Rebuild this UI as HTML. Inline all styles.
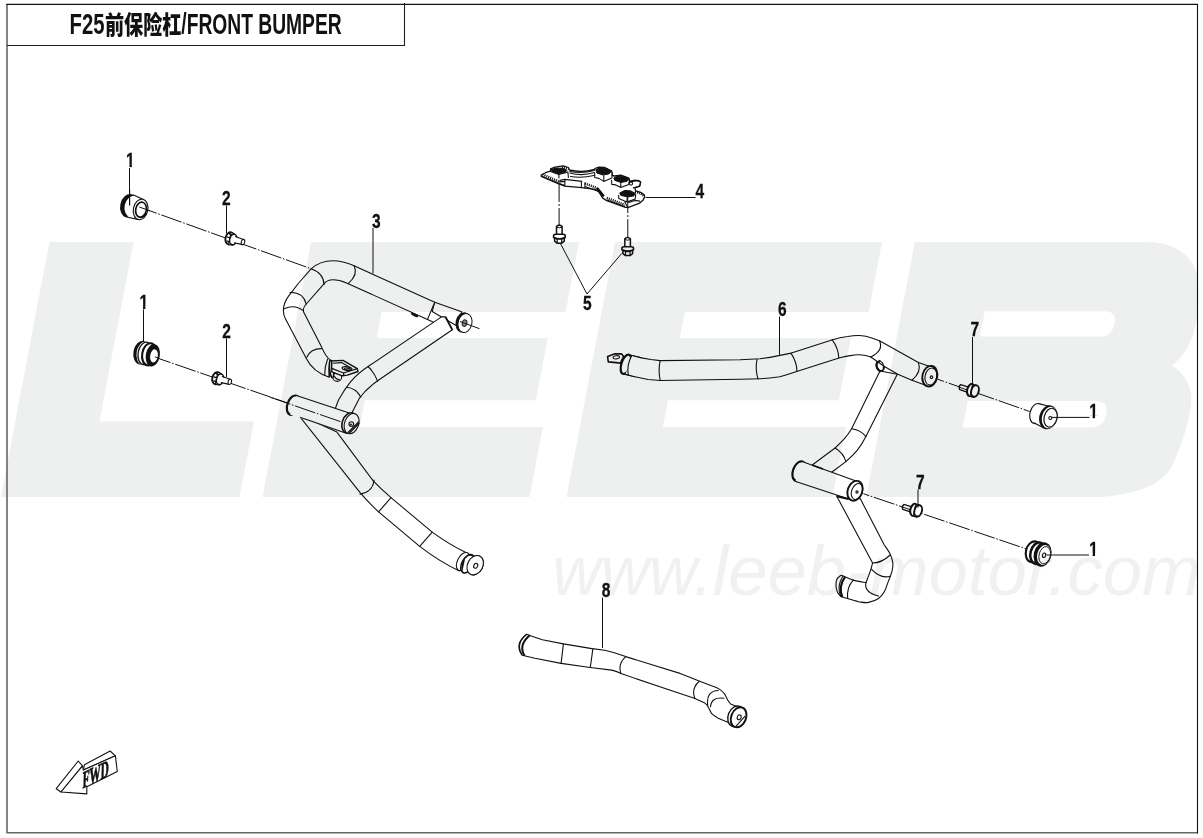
<!DOCTYPE html>
<html lang="zh">
<head>
<meta charset="utf-8">
<title>F25前保险杠/FRONT BUMPER</title>
<style>
html,body{margin:0;padding:0;background:#fff;}
body{width:1203px;height:838px;overflow:hidden;position:relative;font-family:"Liberation Sans","Noto Sans CJK SC",sans-serif;}
svg{position:absolute;left:0;top:0;display:block;}
.wm{fill:#eef0ef;}
.wmt{font-family:"Liberation Sans",sans-serif;font-style:italic;font-size:70px;fill:#f0f1f0;}
.ttl{font-family:"Liberation Sans","Noto Sans CJK SC",sans-serif;font-weight:bold;font-size:29px;fill:#111;}
.lb{font-family:"Liberation Sans",sans-serif;font-weight:bold;font-size:21px;fill:#111;text-anchor:middle;stroke:#111;stroke-width:.3;}
.ln{stroke:#111;stroke-width:1.1;fill:none;stroke-linecap:round;stroke-linejoin:round;}
.ld{stroke:#111;stroke-width:1;fill:none;}
.ax{stroke:#111;stroke-width:1;fill:none;stroke-dasharray:21.5 1.7 1.6 1.7;}
.tb{stroke:#111;fill:none;stroke-linecap:butt;stroke-linejoin:round;}
.tw{stroke:#fff;fill:none;stroke-linecap:butt;stroke-linejoin:round;}
.wf{fill:#fff;stroke:#111;stroke-width:1.1;stroke-linejoin:round;}
</style>
</head>
<body>
<svg width="1203" height="838" viewBox="0 0 1203 838">
<!-- WATERMARK -->
<g id="watermark">
<g class="wm" transform="translate(0,242) skewX(-10.76) translate(0,-242)">
<!-- L -->
<path d="M49.4 242H133.6V421.5H288V497H49.4Z"/>
<!-- E1 -->
<path d="M311 242H579V312H395V338H566V400.3H395V427H578V497H311Z"/>
<!-- E2 -->
<path d="M615 242H882V312H698V338H869V400.3H698V427H881V497H615Z"/>
<!-- B -->
<path fill-rule="evenodd" d="M914.8 242H1147C1165 242 1181 248 1192.1 258.6C1200 266 1204 275 1206.5 285C1210 298 1212 315 1211.4 325.4C1211 338 1208 348 1204.5 354.1C1201 360 1198 363 1195.2 365.5C1207 371 1217 384 1220.4 395.5C1223 405 1222.5 420 1221.4 429.6C1220 445 1217 458 1214.5 466.8C1209 482 1190 494 1150 497H914.8Z
M998 311.2H1118Q1130 311.2 1130 323.5Q1130 336.6 1118 336.6H998Z
M998 401H1126Q1139 401 1139 414Q1139 427.5 1126 427.5H998Z"/>
</g>
<text class="wmt" y="594.5"><tspan x="552.3" textLength="160" lengthAdjust="spacingAndGlyphs">www.</tspan><tspan x="712.5" textLength="488.5" lengthAdjust="spacingAndGlyphs">leeb-motor.com</tspan></text>
</g>
<!-- DRAWING -->
<g id="drawing" style="mix-blend-mode:multiply">
<!-- axis center lines -->
<g id="axes">
<path class="ax" d="M139.3 207L311 268.7" style="stroke-dashoffset:3.1"/>
<path class="ax" d="M159.8 358.9L287.1 402.8" style="stroke-dashoffset:10.2"/>
<path class="ax" d="M559.1 183.5V224.9" style="stroke-dasharray:24 2 2 2;stroke-dashoffset:5.5"/>
<path class="ax" d="M627.8 206.6V237.1" style="stroke-dasharray:24 2 2 2;stroke-dashoffset:17.5"/>
<path class="ax" d="M937.5 379.2L1029.7 411.5" style="stroke-dashoffset:14.7"/>
<path class="ax" d="M863.4 493.7L1026 548.8" style="stroke-dashoffset:15.4"/>
</g>
<!-- part 1 (plain bushing, top-left) -->
<g id="b1a">
<ellipse cx="129" cy="205.8" rx="8.8" ry="11.9" transform="rotate(12 129 205.8)" fill="#111"/>
<ellipse cx="132.2" cy="206.6" rx="7.6" ry="10.6" transform="rotate(12 132.2 206.6)" fill="#fff"/>
<path d="M133.6 195.2L143.3 199.5L137.9 219.4L127.7 216.7Z" fill="#fff"/>
<path class="ln" d="M133.6 194.9L143.3 199.5M127.7 217.2L137.9 219.4"/>
<ellipse class="wf" cx="140.6" cy="209.4" rx="7.2" ry="10.3" transform="rotate(12 140.6 209.4)"/>
<ellipse cx="141" cy="209.7" rx="5.3" ry="7.6" transform="rotate(12 141 209.7)" fill="none" stroke="#111" stroke-width="1.7"/>
<path class="ln" d="M146 213Q144.5 217 141 217.8" />
<path class="ld" d="M129.7 190V205.4"/>
<path class="ld" d="M139.3 207L150 210.8"/>
</g>
<!-- part 1 (ribbed bushing, left) -->
<g id="b1b">
<ellipse cx="141.6" cy="352.7" rx="8.2" ry="12" transform="rotate(10 141.6 352.7)" fill="#111"/>
<ellipse cx="143.9" cy="353.1" rx="7.3" ry="11.4" transform="rotate(10 143.9 353.1)" fill="#fff"/>
<ellipse cx="145.3" cy="353.4" rx="7.2" ry="11.3" transform="rotate(10 145.3 353.4)" fill="#fff" stroke="#111" stroke-width="1.3"/>
<ellipse cx="149.2" cy="354.3" rx="7" ry="11.2" transform="rotate(10 149.2 354.3)" fill="#fff" stroke="#111" stroke-width="2.1"/>
<ellipse cx="152.8" cy="355.3" rx="7" ry="11.3" transform="rotate(10 152.8 355.3)" fill="#111"/>
<ellipse cx="154" cy="355.9" rx="3.8" ry="6.6" transform="rotate(10 154 355.9)" fill="#fff"/>
<path class="ld" d="M155 356.8L160 358.9"/>
</g>
<!-- part 2 bolts -->
<g id="bolt2a">
<ellipse cx="229.8" cy="238.4" rx="4.3" ry="6.2" transform="rotate(14 229.8 238.4)" fill="#fff" stroke="#111" stroke-width="1.9"/>
<path d="M231 232.6L235 234.2L233 245.2L228.5 244.6Z" fill="#fff" stroke="#111" stroke-width="1"/>
<path class="ln" d="M229.2 233.6L232.2 235.6M227.2 237L230.6 238.2M227 241L230.2 242.4M231 235L233.6 237" style="stroke-width:1.3"/>
<ellipse cx="233.2" cy="239.5" rx="3.5" ry="5.4" transform="rotate(14 233.2 239.5)" fill="#fff" stroke="#111" stroke-width="1.6"/>
<path d="M234 236.6L242.6 239.6L242 244.2L233.2 242.2Z" fill="#fff"/>
<path class="ln" d="M235.6 236.6L243.3 239.4M242.4 244.6L234.4 242.8"/>
<ellipse class="wf" cx="243" cy="242" rx="1.7" ry="2.7" transform="rotate(14 243 242)"/>
</g>
<use href="#bolt2a" transform="translate(-13.2 139.8)"/>
<!-- part 3 : left bumper frame -->
<g id="p3">
<!-- narrow end section of upper tube -->
<path class="wf" d="M434.7 302.2L461.6 311.8L457 326L432.2 311.5Z"/>
<path class="ln" d="M427.5 319.4L433 322"/>
<!-- upper tube (a) -->
<path class="wf" d="M434.7 302.2L373.2 274.5L354.1 265.8C347 262.8 340 260.8 333.1 260.8C325 260.9 317 263.4 311.1 268.9L298.7 283L289.1 295.4C285.5 300 283.4 305 283.4 310.7C283.4 314 284 316 285.3 318.4L306.3 358.5C309 364 316 373 329.4 377.2L330.4 360.1C326 357 323.5 351.5 321.6 347.1L304.4 313.6C302.5 310.5 303 308 305.4 305L323.5 284.4C326 281 329 279.8 333.1 279.8C338 279.8 342 281 346.5 283L427.5 319.4Z"/>
<path class="ln" d="M354.1 265.8Q358.5 274.5 348.4 283.4M311.1 268.7Q323.5 273 324.1 284.4M290.1 292.6Q303 292 306.3 304.1M284.3 308.8Q294 304 303.5 310.7M306.8 357.2Q310.7 348.5 321.5 348.6M327.6 359Q324.5 367 324.7 375.1"/>
<path d="M330.4 360.1Q328.5 369 329.4 377.2" stroke="#111" stroke-width="1.8" fill="none"/>
<ellipse cx="414.5" cy="315" rx="4" ry="1.3" transform="rotate(24 414.5 315)" fill="#111"/>
<!-- tab -->
<circle class="wf" cx="337.2" cy="377" r="4.4"/>
<path class="ln" d="M334.5 376.5Q336 379.5 339.5 379.8"/>
<ellipse cx="331.6" cy="368.9" rx="2" ry="8.8" transform="rotate(-6 331.6 368.9)" fill="#fff" stroke="#111" stroke-width="1.5"/>
<path class="wf" d="M331.6 361L343 360.4L357.3 368.7L358 371.5L347.3 375.1L342.3 375.8L331.8 371.8Z" style="stroke-width:1.4"/>
<path class="ln" d="M332.4 368.6L343.6 373L357.3 368.7M343.6 373V375.6" style="stroke-width:1.3"/>
<path class="ln" d="M333 363.2L341.5 362.6L352 368.4"/>
<ellipse cx="346.8" cy="368.6" rx="4.7" ry="1.8" transform="rotate(8 346.8 368.6)" fill="#fff" stroke="#111" stroke-width="1.3"/>
<ellipse class="ln" cx="347.2" cy="369" rx="2.8" ry=".9" transform="rotate(8 347.2 369)"/>
<!-- end cap of (a) -->
<ellipse cx="463.2" cy="322.4" rx="7.6" ry="10.3" transform="rotate(14 463.2 322.4)" fill="#111"/>
<ellipse cx="465" cy="323" rx="6.9" ry="9.6" transform="rotate(14 465 323)" fill="#fff" stroke="#111" stroke-width="1"/>
<ellipse cx="464.6" cy="323.1" rx="2.3" ry="3.3" transform="rotate(14 464.6 323.1)" fill="#888" stroke="#222" stroke-width="1"/>
<path class="ax" d="M460 321.5L479.5 328.7"/>
<!-- brace (b) -->
<path class="wf" d="M441.5 316.9L445.5 316.9L452.3 329.8L378 380.5Q366 389 359.5 398L350.3 416L334 412L338.5 400Q344 390 350.1 382.3Q358 373 368.1 366.5Z"/>
<path d="M445.5 316.9L452.3 329.8" stroke="#111" stroke-width="1.8" fill="none"/>
<path class="ln" d="M368.1 366.5Q374 372.2 377.7 381.2M346.6 387.3Q356 388 360.9 397.3"/>
<!-- long lower tube (d) -->
<path class="wf" d="M297.8 414.1L359.9 492.4Q368 502 378.6 511.9L419.7 546.4Q440 562 459.3 570.9L465.5 552.2Q450 545 432.2 532.1L391 497.6Q381 489 373.2 480.9L336.9 432.1Z"/>
<path class="ln" d="M374 480.1Q373 492 360 494.1M391 497.6L378.6 511.9M432.2 532.1L419.7 546.4"/>
<!-- end of (d) -->
<ellipse class="wf" cx="463" cy="561.5" rx="5.5" ry="9.8" transform="rotate(28 463 561.5)"/>
<ellipse cx="468.5" cy="563.5" rx="6" ry="10" transform="rotate(28 468.5 563.5)" fill="#111"/>
<ellipse class="wf" cx="475.2" cy="565.2" rx="7.6" ry="10.2" transform="rotate(28 475.2 565.2)"/>
<path d="M466 554.5L473 556.5L470 575.5L462 573Z" fill="#fff"/>
<ellipse cx="467.5" cy="563.8" rx="5.6" ry="9.9" transform="rotate(28 467.5 563.8)" fill="none" stroke="#111" stroke-width="1.6"/>
<ellipse class="wf" cx="475.2" cy="565.2" rx="7.6" ry="10.2" transform="rotate(28 475.2 565.2)"/>
<ellipse class="ln" cx="475.7" cy="565.8" rx="1.9" ry="2.5" transform="rotate(28 475.7 565.8)"/>
<!-- cross tube (c) -->
<ellipse class="wf" cx="293.3" cy="405.2" rx="6" ry="10" transform="rotate(18.7 293.3 405.2)" style="stroke-width:2.2"/>
<path d="M296.4 395.5L349.3 413L345.5 433.1L290.2 414.8Z" fill="#fff"/>
<path class="ln" d="M296.4 395.5L349.3 413M345.5 433.1L300.6 417.4"/>
<path class="ax" d="M270 397.2L343 422.5"/>
<ellipse cx="349.3" cy="422.9" rx="7" ry="10.5" transform="rotate(18.7 349.3 422.9)" fill="#fff" stroke="#111" stroke-width="1.6"/>
<ellipse class="wf" cx="351.6" cy="423.6" rx="7" ry="10.5" transform="rotate(18.7 351.6 423.6)"/>
<circle class="ln" cx="351.3" cy="424" r="2.3"/>
<circle cx="351" cy="424.5" r="1.1" fill="#333"/>
<path class="ln" d="M348 432.5L358.5 422M349.5 433L359 423.5"/>
</g>
<!-- part 4 bracket + part 5 bolts -->
<g id="p4">
<path class="wf" style="stroke-width:1.3" d="M541.2 175L545.5 172.7L550.5 171.2L550.5 168.8L555 167.2L561.4 166.2L563.9 166L568.4 167.5L569.4 170Q581.9 173 594.4 169.5L594.9 168.5L598.8 167.2L604.8 167.5L611.8 171L612.3 175.5L614.8 176L620.8 175.2L628.8 178L629.8 181.1L635.7 180.1L640.7 181.9L639.7 185.9L634.8 187.9L635.7 190.9L640.7 192.4L644.2 194.9L644.7 196.9L643.2 199.9L639.7 203.1L627.8 207.6L624.8 207.1L606.8 200.7L602.8 198.1L598.8 191.9L594.9 189.4L581.9 187.7L564.9 186.1L559.4 184.1L541.2 176.5Z"/>
<g stroke="#111" stroke-width="2.4" fill="none" stroke-dasharray="1.1 1">
<path d="M542.5 174.3L559.4 181.7"/><path d="M561.9 166.8L568.9 168.8"/><path d="M584.9 183.4L596.8 187.9"/><path d="M606.8 197.9L624.8 204.9"/><path d="M634.8 191.9Q641.7 192.9 643.7 196.4"/>
</g>
<path d="M596.8 187.9L603.8 196.4" stroke="#111" stroke-width="2.6" fill="none"/>
<path class="ln" d="M542 176.3L559.4 183.6L564.9 185.5M550.5 171.5L558.9 174.5L558.9 178M558.9 174.5L567.9 172L568.4 177.5M569.9 171.5Q581.9 174 594.4 170.5M569.9 173Q581.9 176.5 594.4 172.5M570.4 176.5Q581.9 178.4 593.9 175.5M564.9 179.4L581.9 181.4M564.9 179.4L564.9 185.9M581.4 181.4L581.4 187.7M584.9 182.9L584.9 187.9M594.7 173L594.7 177.5L598.8 178.4L603.8 181.4L611.8 178L612.3 173M603.8 175.5L603.8 181.4M611.6 180.4L611.8 184.4L615.8 184.9L620.8 187.4L628.8 184.4L629.3 180.4M620.8 182.4L620.8 187.4M629.8 181.9L638.7 180.4L640.7 182.4L639.7 186.4L633.3 187.9M618.6 195.4L618.8 198.4L626.8 201.9L635.2 198.9L635.7 194.4M627.3 196.9L626.8 201.9M624.8 201.9L627.8 207.4M628.8 202.4L634.8 200.4L639.7 201.1M559.9 180.4L564.9 179.4M559.4 181.9L564.9 181.4M585 186.5L596 190.5M607 200L624.8 206.6"/>
<g fill="#111" stroke="#111" stroke-width="1" stroke-linejoin="round">
<path d="M551 169.5L556.4 168L563.9 168.5L566.9 170.5L564.9 172.5L558.9 174L552.5 172Z"/>
<path d="M595.8 169.5L599.8 167.8L606.8 168.5L611.3 171.5L608.8 174L602.8 175L596.8 173Z"/>
<path d="M613.8 178L617.8 176L624.8 176.5L629.3 178.9L626.8 181.4L620.8 182.4L614.8 180.4Z"/>
<path d="M619.8 192.9L624.8 190.4L630.8 190.9L635.2 193.4L633.8 195.9L627.8 196.9L620.8 195.4Z"/>
</g>
<circle class="ln" cx="631" cy="183.6" r="1.6"/>
<path class="ax" style="stroke-dasharray:none" d="M627.8 196V208"/>
</g>
<g id="bolt5a" style="stroke-width:1.5">
<path class="wf" style="stroke-width:1.5" d="M556.5 226.4Q559.3 223.8 562.1 226.4V235H556.5Z"/>
<path class="ln" d="M556.5 227.2Q559.3 228.6 562.1 227.2" style="stroke-width:1"/>
<path class="wf" style="stroke-width:1.6" d="M553.6 235.8Q553.6 234.3 556 234.3H562.8Q565.2 234.3 565.2 235.8V237.4Q559.4 240 553.6 237.4Z"/>
<path class="wf" style="stroke-width:1.5" d="M554.6 238L554.6 241.2L557.2 243.2H561.7L564.3 241.2V238Q559.4 240.2 554.6 238Z"/>
<path class="ln" d="M557.2 239.4V243.2M561.7 239.4V243.2" style="stroke-width:1.2"/>
</g>
<use href="#bolt5a" transform="translate(68.3 12.4)"/>
<!-- part 6 : right bumper frame -->
<g id="p6">
<!-- lower tube (to bottom elbow) -->
<path class="wf" d="M836.5 495.8L872.6 563C872.2 564.5 871.2 568.4 870.1 571.7C869.0 575.0 866.7 580.8 866.0 582.6C863.9 582.2 856.9 581.1 853.4 580.1C849.9 579.1 847.2 577.6 845.1 576.8C843.0 576.0 841.6 575.5 840.9 575.3C840.2 576.0 837.6 577.7 836.8 579.5C836.0 581.3 835.9 583.8 836.0 586.0C836.1 588.2 836.8 590.8 837.6 592.5C838.4 594.2 840.4 595.8 840.9 596.4C842.0 596.8 844.4 597.6 847.6 598.5C850.8 599.4 856.6 601.4 860.1 602.0C863.6 602.6 865.4 603.0 868.5 602.4C871.6 601.8 875.9 600.3 878.5 598.5C881.1 596.7 882.6 594.7 884.3 591.8C886.0 588.9 887.2 584.2 888.5 580.9C889.8 577.5 891.2 574.6 891.9 571.7C892.6 568.8 893.2 566.3 892.9 563.4C892.6 560.5 891.6 557.3 890.2 554.2C888.8 551.1 885.3 546.5 884.3 545.0L860.2 498.6Z"/>
<path class="ln" d="M872.6 563Q881.8 563 890.2 555M871.4 569.2Q880.2 579 890.2 576.3M866 582.6Q863.5 592 878.5 596M853.4 580.1Q846.5 587 847.6 598.5"/>
<path d="M845.1 576.8Q838 586.5 842.3 597" stroke="#111" stroke-width="2.2" fill="none"/>
<path class="ln" d="M843 576Q836.4 586 840.6 596.3"/>
<!-- brace from upper bend -->
<ellipse cx="880.3" cy="365.7" rx="3.6" ry="5.3" transform="rotate(-18 880.3 365.7)" fill="#fff" stroke="#111" stroke-width="1.8"/>
<path class="wf" d="M880 371L851.6 428.7Q848 434.5 844.5 438.7Q840 443.5 835.1 448L812.9 464.5L820 478L832.3 471.7L845.9 461.6Q853 455.5 857.4 450.2Q862.5 443.5 865.9 436.6L897.3 374.3Z"/>
<path class="ln" d="M851.6 428.7Q861 430 865.9 436.6M835.1 448Q843.5 453 845.9 461.6"/>
<!-- upper tube -->
<path class="wf" d="M630.9 355.3L641.5 357.9L650.9 359.5L660.2 360.6L740 359.8L760 358.8Q770 357.5 779.9 355.4L789.9 353.4L831.8 339.9Q840 337.3 847.7 336.5Q854 335.3 859.7 335.5Q866 336 871.7 337.9Q876 339.5 879.5 340.8L918.4 362.4L929.2 366.2L924.8 385.1L911.9 380.2L897.8 374.3L884.9 366.7L870.8 357Q866 355 859.7 354.8Q855 354.6 851.7 355.4Q846 356 839.8 357.8L795.9 371.8Q788 374.5 779.9 376.8Q770 378.5 760 378.8L740 379.2L660.2 380.5L648.2 379.5L634.9 376.8L623.6 373.9Z"/>
<path class="ln" d="M660.2 360.6Q658 370 660.2 380.5M757 359.3Q755 369.5 758 378.9M790.9 353.1Q797 362 796.9 371.5M832.2 339.8Q838.5 348 838.8 358M879.5 340.8Q884 350.5 870.8 357M918.4 362.4Q922 372 911.9 380.2"/>
<path d="M880 360.6Q875 363.5 877 368Q878.5 371 881.3 371.4" stroke="#111" stroke-width="1.9" fill="none"/>
<path class="ln" d="M880 360.6Q884.5 363.5 883.2 368.2"/>
<!-- left collar & tab of upper tube -->
<path class="wf" style="stroke-width:1.6" d="M607.6 356.6L615 353.7L621.6 353.9L623.6 356.6L620.3 363.2L616.3 362.6L608.3 361.9Z"/>
<ellipse class="ln" cx="616.3" cy="357.3" rx="3.3" ry="1.6" transform="rotate(-8 616.3 357.3)"/>
<ellipse cx="626" cy="364.3" rx="4.6" ry="10" transform="rotate(18 626 364.3)" fill="#fff" stroke="#111" stroke-width="2.2"/>
<path d="M631.5 355.5L641.5 357.9L634.9 376.8L625.5 374.2Z" fill="#fff"/>
<path class="ln" d="M630.9 355.3L641.5 357.9M623.6 373.9L634.9 376.8"/>
<path class="ln" d="M631.8 355.5Q626.5 365 628.3 374.8"/>
<!-- right end cap -->
<ellipse cx="929.8" cy="376.2" rx="7.4" ry="10.4" transform="rotate(12 929.8 376.2)" fill="#fff" stroke="#111" stroke-width="1.9"/>
<ellipse class="ln" cx="930.9" cy="376.5" rx="5.8" ry="8.6" transform="rotate(12 930.9 376.5)"/>
<circle class="ln" cx="931.5" cy="377.2" r="1.3"/>
<!-- cross tube -->
<ellipse cx="799" cy="471.2" rx="6" ry="10.2" transform="rotate(19.8 799 471.2)" fill="#fff" stroke="#111" stroke-width="2.2"/>
<path d="M802.2 461.5L858.1 481.7L848.8 498.9L795.5 481.3Z" fill="#fff"/>
<path class="ln" d="M802 461.4L858.1 481.7M795 481.2L848.8 498.9"/>
<path d="M812 465L823 469" stroke="#111" stroke-width="1.8"/>
<ellipse cx="855" cy="490.8" rx="7.3" ry="10.2" transform="rotate(19.8 855 490.8)" fill="#fff" stroke="#111" stroke-width="1.9"/>
<ellipse class="ln" cx="857" cy="491.5" rx="5.4" ry="8.2" transform="rotate(19.8 857 491.5)"/>
<circle class="ln" cx="857" cy="492" r="1.1"/>
<path d="M836.8 496.2L848.5 499" stroke="#111" stroke-width="2.2"/>
</g>
<!-- part 8 : lower tube -->
<g id="p8">
<path class="wf" d="M526.7 634.2L531.2 636.1L542.4 639.8L563.4 643.9L591.9 648.6L604.7 650.3Q615 652.5 625.7 656.6L680 673.4L699.1 681L711.5 685.8Q717 687.5 720.1 689.6Q723 691.5 724.9 694.4L727.7 700.1Q729 702.5 730.6 703.9L737.3 706.8L729.6 723L718.2 718.2Q714 716 711.5 713.4L708.6 707.7Q707 704.5 704.8 702.9L694.3 698.2L680 693.4L621 673.6Q616 671 611.7 670.1L590.3 667.5L561.1 663.4L534.9 658.2L522.2 655.2Q515 644 526.7 634.2Z"/>
<path class="ln" d="M563.4 643.9L561.1 663.4M592.9 648.6L590.3 667.5M625.7 656.6Q617.5 664 621 673.6M699.1 681.5Q691 688.6 694.8 698.2M718.2 690.5Q706 691 707.7 704.9M723.9 698.2Q711.5 696.5 710.5 706.8"/>
<path d="M526.7 634.2Q514 644 522.2 655.2" stroke="#111" stroke-width="1.3" fill="none"/>
<path d="M529.7 635.3Q518 645.5 524.6 655.7" stroke="#111" stroke-width="2" fill="none"/>
<!-- right end cap -->
<ellipse cx="735.8" cy="716.2" rx="7.6" ry="10.6" transform="rotate(22 735.8 716.2)" fill="#fff" stroke="#111" stroke-width="1.4"/>
<ellipse cx="738.6" cy="717.3" rx="7.4" ry="10.4" transform="rotate(22 738.6 717.3)" fill="#fff" stroke="#111" stroke-width="2"/>
<ellipse class="ln" cx="739.2" cy="717.3" rx="1.9" ry="2.5" transform="rotate(22 739.2 717.3)"/>
<path class="ln" d="M736.3 725.8L744.9 716.3"/>
</g>
<!-- part 7 bolts (head to the right) -->
<g id="bolt7a">
<path class="wf" d="M960.6 384.6L969.5 387.4L968 392.4L959.6 389.6Q958.2 386.6 960.6 384.6Z" style="stroke-width:1.3"/>
<path class="ld" d="M959 387.1L969 390.6"/>
<ellipse cx="970.6" cy="389.9" rx="3.4" ry="6" transform="rotate(16 970.6 389.9)" fill="#fff" stroke="#111" stroke-width="2.1"/>
<path d="M971 384.3L976 385.8L973.6 397.2L968.8 395.6Z" fill="#fff"/>
<path class="ln" d="M971 384.1L976 385.5M968.6 395.7L973.6 397.2M972.4 386L970.6 394.6" style="stroke-width:1.5"/>
<ellipse cx="975" cy="391" rx="3.7" ry="5.8" transform="rotate(16 975 391)" fill="#fff" stroke="#111" stroke-width="1.9"/>
</g>
<use href="#bolt7a" transform="translate(-56.8 119.8)"/>
<!-- part 1 plain bushing (right, face toward viewer right) -->
<g id="b1c">
<ellipse class="wf" cx="1036.6" cy="413.6" rx="6.6" ry="10.2" transform="rotate(14 1036.6 413.6)"/>
<path d="M1038.5 403.6L1049 406.2L1043.3 427.8L1034 423Z" fill="#fff"/>
<path class="ln" d="M1038.6 403.6L1049 406.2M1034 422.8L1043.3 427.8"/>
<ellipse cx="1048.3" cy="417.3" rx="9" ry="12.2" transform="rotate(14 1048.3 417.3)" fill="#111"/>
<ellipse cx="1049.6" cy="417.6" rx="7.6" ry="10.9" transform="rotate(14 1049.6 417.6)" fill="#fff"/>
<ellipse cx="1050.6" cy="417.7" rx="6.4" ry="9.6" transform="rotate(14 1050.6 417.7)" fill="#fff" stroke="#111" stroke-width="1.2"/>
<circle cx="1050.3" cy="418" r="1.5" fill="#fff" stroke="#111" stroke-width="1.1"/>
</g>
<!-- part 1 ribbed bushing (right) -->
<g id="b1d">
<ellipse cx="1033.4" cy="551.8" rx="7.5" ry="10.6" transform="rotate(14 1033.4 551.8)" fill="#fff" stroke="#111" stroke-width="2.1"/>
<ellipse cx="1037.8" cy="553.2" rx="7.3" ry="10.9" transform="rotate(14 1037.8 553.2)" fill="#fff" stroke="#111" stroke-width="2.5"/>
<ellipse cx="1042.6" cy="554.5" rx="8.8" ry="12.4" transform="rotate(14 1042.6 554.5)" fill="#111"/>
<ellipse cx="1043.9" cy="555" rx="6.7" ry="10.1" transform="rotate(14 1043.9 555)" fill="#fff"/>
<ellipse cx="1044.7" cy="555.2" rx="5.6" ry="8.8" transform="rotate(14 1044.7 555.2)" fill="none" stroke="#111" stroke-width=".9"/>
<ellipse cx="1044.1" cy="555.3" rx="1.6" ry="2.3" transform="rotate(14 1044.1 555.3)" fill="#fff" stroke="#111" stroke-width="1.2"/>
</g>
<!-- FWD arrow -->
<g id="fwd">
<path class="wf" d="M61 792L56.2 788.7L78.2 761L82.5 765.8Z"/>
<path class="wf" d="M84.4 764.8L110.1 751L115.4 755.8L83.4 770.1Z"/>
<path class="wf" d="M61 792L82.5 765.8L83.4 770.1L115.4 755.8L117.3 771.5L86.8 786.8L86.8 793.9Z"/>
<text transform="translate(82.4,788.4) rotate(-25.5) skewX(-27) scale(.58,1)" font-family="Liberation Serif, serif" font-weight="bold" font-size="21.5" fill="#111" stroke="#111" stroke-width=".7">FWD</text>
</g>
<!-- labels & leaders -->
<g id="labels">
<clipPath id="c1"><path d="M-7 -18H7V-2.8H2.1V.5H-1.1V-2.8H-7Z"/></clipPath>
<path class="ld" d="M129.5 168V205.4M226.5 205.5V233.5M143.5 309.5V342M226.5 338.5V377M373 228V273.6M645.7 197.5H695.5M587 294L560.2 243.1M587 294L621.8 253.4M779.5 316.5V354.8M972.5 337V385M1051.8 417.4H1089.5M918 489.5V507.7M1046.6 555H1089M602.5 597.5V648"/>
<g class="lb">
<text transform="translate(130.3,167) scale(.74,1)" clip-path="url(#c1)">1</text>
<text transform="translate(226.4,204.7) scale(.74,1)">2</text>
<text transform="translate(143.8,308.8) scale(.74,1)" clip-path="url(#c1)">1</text>
<text transform="translate(226.5,338) scale(.74,1)">2</text>
<text transform="translate(376.2,227.6) scale(.74,1)">3</text>
<text transform="translate(699.8,198.4) scale(.74,1)">4</text>
<text transform="translate(587.3,310.1) scale(.74,1)">5</text>
<text transform="translate(782.3,315.9) scale(.74,1)">6</text>
<text transform="translate(974.9,336.4) scale(.74,1)">7</text>
<text transform="translate(1093.5,418.3) scale(.74,1)" clip-path="url(#c1)">1</text>
<text transform="translate(920.3,489.1) scale(.74,1)">7</text>
<text transform="translate(1093.5,555.7) scale(.74,1)" clip-path="url(#c1)">1</text>
<text transform="translate(606.1,597.2) scale(.74,1)">8</text>
</g>
</g>

</g>
<!-- FRAME -->
<g id="frame">
<path d="M7 4.4V832.8H1197.5" stroke="#666" stroke-width="1.6" fill="none"/>
<path d="M6.3 4.4H1197.5V833.4" stroke="#111" stroke-width="1.1" fill="none"/>
<path d="M404.5 3V45.5H7" stroke="#222" stroke-width="1.1" fill="none"/>
<text class="ttl" y="34"><tspan x="69.6" textLength="35" lengthAdjust="spacingAndGlyphs">F25</tspan><tspan x="105" y="33.6" style="font-size:25.5px;font-weight:900" textLength="76.5" lengthAdjust="spacingAndGlyphs">前保险杠</tspan><tspan x="181.3" y="34" textLength="160.4" lengthAdjust="spacingAndGlyphs">/FRONT BUMPER</tspan></text>
</g>
</svg>
</body>
</html>
